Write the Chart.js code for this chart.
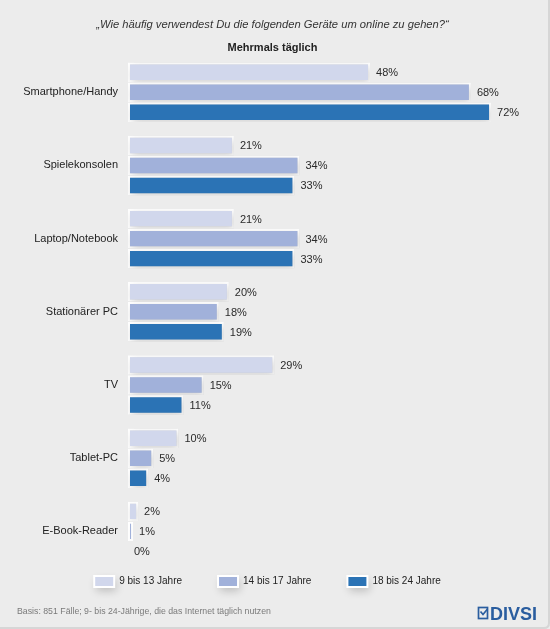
<!DOCTYPE html>
<html><head><meta charset="utf-8">
<script src="https://cdn.jsdelivr.net/npm/chart.js@4"></script>
<style>
html,body{margin:0;padding:0;background:#fff}
#wrap{position:relative;width:550px;height:629px;background:#ececec}
</style></head><body><div id="wrap"><canvas id="c"></canvas></div>
<script>
const categories = ['Smartphone/Handy','Spielekonsolen','Laptop/Notebook','Stationärer PC','TV','Tablet-PC','E-Book-Reader'];
const seriesNames = ['9 bis 13 Jahre','14 bis 17 Jahre','18 bis 24 Jahre'];
const age9to13 = [48,21,21,20,29,10,2];
const age14to17 = [68,34,34,18,15,5,1];
const age18to24 = [72,33,33,19,11,4,0];
const titleText = '„Wie häufig verwendest Du die folgenden Geräte um online zu gehen?“';
const subtitleText = 'Mehrmals täglich';
const footnoteText = 'Basis: 851 Fälle; 9- bis 24-Jährige, die das Internet täglich nutzen';
const logoText = 'DIVSI';

const colors = ['#d1d7ec','#a1b1da','#2b73b5'];
const FONT = '"Liberation Sans", Arial, sans-serif';
Chart.defaults.font.family = FONT;

const shadowPlugin = {
  id: 'shadowPlugin',
  afterLayout(chart) {
    const lg = chart.legend;
    if (lg) {
      lg.top -= 28; lg.bottom -= 28;
      lg.left -= 5; lg.right -= 5;
    }
  },
  beforeDraw(chart) {
    const ctx = chart.ctx;
    const w = chart.width, h = chart.height;
    ctx.save();
    ctx.fillStyle = '#ececec';
    ctx.fillRect(0,0,w,h);
    ctx.strokeStyle = '#d6d6d6';
    ctx.lineWidth = 2;
    ctx.beginPath();
    ctx.moveTo(w-1,0); ctx.lineTo(w-1,h-6); ctx.quadraticCurveTo(w-1,h-1,w-6,h-1); ctx.lineTo(0,h-1);
    ctx.stroke();
    const lg = chart.legend;
    if (lg && lg.legendHitBoxes) {
      const bw = lg.options.labels.boxWidth, bh = lg.options.labels.boxHeight;
      lg.legendHitBoxes.forEach((hb,i) => {
        ctx.shadowColor = 'rgba(0,0,0,0.2)';
        ctx.shadowBlur = 8; ctx.shadowOffsetX = 2; ctx.shadowOffsetY = 4;
        ctx.fillStyle = colors[i];
        ctx.fillRect(hb.left, hb.top + (hb.height - bh)/2, bw, bh);
      });
    }
    ctx.restore();
  },
  beforeDatasetsDraw(chart) {
    const ctx = chart.ctx;
    ctx.save();
    ctx.shadowColor = 'rgba(0,0,0,0.18)';
    ctx.shadowBlur = 8; ctx.shadowOffsetX = 2; ctx.shadowOffsetY = 3;
  },
  afterDatasetsDraw(chart) {
    const ctx = chart.ctx;
    ctx.restore();
    ctx.save();
    ctx.font = '11px ' + FONT;
    ctx.fillStyle = '#2a2a2a';
    ctx.textAlign = 'left';
    ctx.textBaseline = 'middle';
    chart.data.datasets.forEach((ds, di) => {
      const meta = chart.getDatasetMeta(di);
      meta.data.forEach((el, i) => {
        ctx.fillText(ds.data[i] + '%', el.x + 6, el.y + 1);
      });
    });
    ctx.restore();
  },
  afterDraw(chart) {
    const ctx = chart.ctx;
    ctx.save();
    ctx.font = '8.75px ' + FONT;
    ctx.fillStyle = '#7a7a7a';
    ctx.textAlign = 'left';
    ctx.textBaseline = 'middle';
    ctx.fillText(footnoteText, 17, 612);
    const blue = '#2a5d9f';
    ctx.strokeStyle = blue; ctx.lineWidth = 1.7;
    ctx.strokeRect(478.5, 607.5, 9, 11);
    ctx.beginPath();
    ctx.moveTo(480.5, 611.5); ctx.lineTo(483, 614.5); ctx.lineTo(487.5, 609);
    ctx.stroke();
    ctx.fillStyle = blue;
    ctx.font = 'bold 18px ' + FONT;
    ctx.textBaseline = 'alphabetic';
    ctx.fillText(logoText, 490, 620);
    ctx.restore();
  }
};

new Chart(document.getElementById('c'), {
  type: 'bar',
  data: {
    labels: categories,
    datasets: [
      {label: seriesNames[0], data: age9to13, backgroundColor: colors[0]},
      {label: seriesNames[1], data: age14to17, backgroundColor: colors[1]},
      {label: seriesNames[2], data: age18to24, backgroundColor: colors[2]}
    ].map(d => Object.assign(d, {borderColor:'#ffffff', borderWidth:2, borderSkipped:false, barPercentage:0.97, categoryPercentage:0.82, clip:false}))
  },
  options: {
    indexAxis: 'y',
    responsive: true,
    maintainAspectRatio: false,
    animation: false,
    events: [],
    layout: {padding: {top: 18, right: 5, bottom: 4, left: 0}},
    scales: {
      x: {display: false, min: 0, max: 82.7},
      y: {
        grid: {display: false, drawTicks: false},
        border: {display: false},
        ticks: {padding: 10, color: '#222', font: {size: 11}},
        afterFit(s) { s.width = 128; }
      }
    },
    plugins: {
      title: {display: true, text: titleText, color: '#333', font: {size: 11.2, style: 'italic', weight: 'normal'}, padding: {top: 0, bottom: 10}},
      subtitle: {display: true, text: subtitleText, color: '#222', font: {size: 11, weight: 'bold'}, padding: {top: 0, bottom: 1}},
      legend: {position: 'bottom', labels: {boxWidth: 20, boxHeight: 11, padding: 36, color: '#222', font: {size: 10}}},
      tooltip: {enabled: false}
    }
  },
  plugins: [shadowPlugin]
});
</script></body></html>
